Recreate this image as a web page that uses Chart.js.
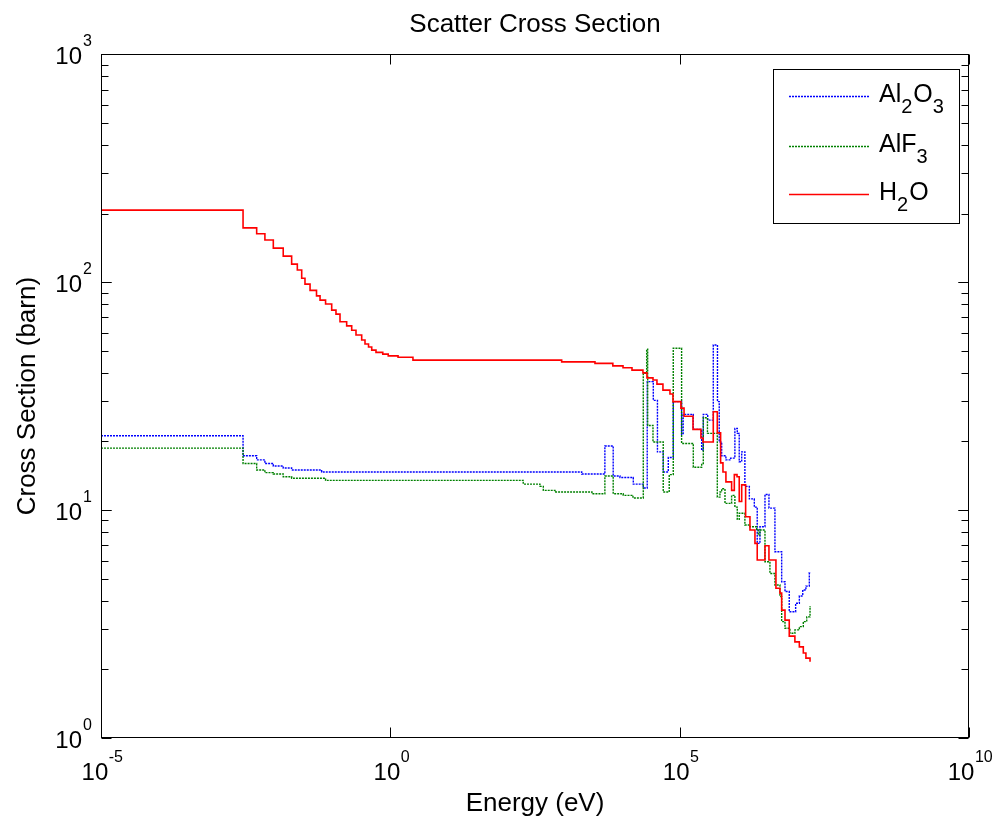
<!DOCTYPE html>
<html>
<head>
<meta charset="utf-8">
<script src="https://cdn.jsdelivr.net/npm/chart.js@4.4.1/dist/chart.umd.min.js"></script>
<style>
  html, body { margin: 0; padding: 0; background: #fff; }
  #wrap { width: 996px; height: 823px; }
</style>
</head>
<body>
<div id="wrap"><canvas id="c" width="996" height="823"></canvas></div>
<script>
// ---------- data (energy in eV, cross section in barn; group-wise step values) ----------
const al2o3Energy = [1e-5, 2.85e-3, 4.9e-3, 6.8e-3, 9.5e-3, 1.41e-2, 1.97e-2, 6.5e-2, 2.03e3, 5.1e3, 7.1e3, 9.3e3, 1.58e4, 2.35e4, 2.75e4, 3.5e4, 4.13e4, 5.2e4, 6.36e4, 7.75e4, 1.08e5, 1.15e5, 1.72e5, 2.4e5, 2.56e5, 3.05e5, 3.81e5, 4.5e5, 4.83e5, 5.32e5, 6.3e5, 7.6e5, 9.0e5, 9.9e5, 1.07e6, 1.18e6, 1.34e6, 1.6e6, 1.95e6, 2.19e6, 2.44e6, 2.98e6, 3.49e6, 4.43e6, 5.79e6, 6.61e6, 7.83e6, 1.01e7, 1.17e7, 1.34e7, 1.52e7, 1.74e7, 1.83e7];
const al2o3Sigma  = [21.2, 17.3, 16.6, 16.0, 15.6, 15.3, 15.0, 14.7, 14.4, 19.1, 14.1, 13.9, 13.0, 12.5, 36.6, 30.3, 18.0, 14.7, 17.0, 29.9, 21.5, 26.3, 22.6, 18.3, 26.3, 24.8, 53.0, 29.9, 19.9, 17.3, 16.6, 16.9, 22.8, 21.7, 16.3, 18.0, 12.7, 11.2, 10.3, 7.14, 8.45, 11.7, 10.2, 6.56, 4.85, 4.39, 3.58, 3.90, 4.20, 4.46, 4.64, 5.31, 5.31];

const alf3Energy = [1e-5, 2.85e-3, 4.9e-3, 6.8e-3, 9.5e-3, 1.41e-2, 1.97e-2, 7.6e-2, 198, 385, 440, 700, 3.05e3, 5.1e3, 7.1e3, 1.06e4, 1.56e4, 2.35e4, 2.69e4, 2.8e4, 3.46e4, 5.2e4, 6.6e4, 7.75e4, 1.08e5, 1.72e5, 2.4e5, 2.56e5, 3.02e5, 4.47e5, 4.97e5, 5.32e5, 6.07e5, 7.9e5, 9.0e5, 9.9e5, 1.07e6, 1.34e6, 1.64e6, 2.14e6, 2.28e6, 2.44e6, 2.98e6, 3.63e6, 4.43e6, 5.41e6, 5.79e6, 6.61e6, 8.05e6, 9.8e6, 1.17e7, 1.37e7, 1.57e7, 1.79e7, 1.83e7];
const alf3Sigma  = [18.7, 16.0, 15.0, 14.6, 14.4, 14.0, 13.8, 13.5, 13.0, 12.7, 12.2, 12.0, 11.8, 14.1, 11.8, 11.6, 11.3, 39.8, 50.8, 23.5, 19.9, 12.0, 14.3, 51.3, 19.6, 15.4, 16.0, 25.4, 21.7, 11.4, 12.0, 12.4, 10.7, 11.6, 10.3, 9.1, 9.68, 8.6, 8.45, 8.17, 7.77, 8.17, 5.93, 5.27, 4.69, 4.17, 3.24, 3.03, 2.88, 2.98, 3.08, 3.24, 3.40, 3.77, 3.77];

const h2oEnergy = [1e-5, 2.85e-3, 4.9e-3, 6.8e-3, 9.5e-3, 1.41e-2, 1.97e-2, 2.47e-2, 2.94e-2, 3.35e-2, 4.1e-2, 5.3e-2, 6.1e-2, 7.6e-2, 9.7e-2, 0.115, 0.135, 0.176, 0.215, 0.255, 0.32, 0.365, 0.42, 0.477, 0.565, 0.74, 0.92, 1.36, 2.46, 914, 3.44e3, 7.0e3, 1.05e4, 1.5e4, 2.32e4, 2.72e4, 3.46e4, 4.05e4, 5.14e4, 6.8e4, 7.66e4, 1.05e5, 1.19e5, 1.70e5, 2.33e5, 2.53e5, 3.81e5, 4.47e5, 5.1e5, 5.6e5, 6.3e5, 7.9e5, 8.8e5, 9.8e5, 1.07e6, 1.18e6, 1.38e6, 1.64e6, 2.0e6, 2.19e6, 2.98e6, 3.49e6, 4.61e6, 5.41e6, 5.79e6, 6.61e6, 7.83e6, 9.8e6, 1.17e7, 1.37e7, 1.52e7, 1.79e7];
const h2oSigma  = [207, 173, 163, 153, 141, 130, 120, 113, 104, 98, 92, 87, 83.4, 80.2, 75.4, 72.4, 67, 64.3, 61.5, 58.6, 55.7, 53.5, 51.9, 50.3, 49.2, 48.3, 47.5, 46.8, 45.5, 44.7, 44.0, 42.9, 42.1, 41.1, 40.0, 38.0, 37.2, 35.7, 33.6, 32.3, 29.9, 28.0, 25.8, 22.6, 20.7, 19.9, 27.0, 21.8, 16.1, 14.7, 13.3, 12.2, 14.3, 14.0, 10.9, 12.9, 9.35, 8.17, 7.14, 6.04, 6.97, 6.04, 4.54, 4.32, 3.64, 3.29, 2.80, 2.64, 2.51, 2.36, 2.24, 2.16];

const seriesNames = ['Al₂O₃', 'AlF₃', 'H₂O'];
// legend rich text parts: [text, isSubscript]
const legendParts = [
  [['Al', false], ['2', true], ['O', false], ['3', true]],
  [['AlF', false], ['3', true]],
  [['H', false], ['2', true], ['O', false]]
];

const xTickValues = [1e-5, 1, 1e5, 1e10];
const xTickExps   = ['-5', '0', '5', '10'];
const yTickValues = [1, 10, 100, 1000];
const yTickExps   = ['0', '1', '2', '3'];

const titleText = 'Scatter Cross Section';
const xTitle = 'Energy (eV)';
const yTitle = 'Cross Section (barn)';

// ---------- build ----------
const FONT = "'Liberation Sans', Arial, Helvetica, sans-serif";
function pts(ex, ey) { return ex.map((e, i) => ({ x: e, y: ey[i] })); }

const styles = [
  { color: '#0000ff', width: 1.4, dash: [2, 1] },
  { color: '#008000', width: 1.4, dash: [2, 1] },
  { color: '#ff0000', width: 1.6, dash: [] }
];

const datasets = [
  { label: seriesNames[0], data: pts(al2o3Energy, al2o3Sigma), order: 3 },
  { label: seriesNames[1], data: pts(alf3Energy, alf3Sigma), order: 2 },
  { label: seriesNames[2], data: pts(h2oEnergy, h2oSigma), order: 1 }
].map((d, i) => Object.assign(d, {
  borderColor: styles[i].color,
  backgroundColor: styles[i].color,
  borderWidth: styles[i].width,
  borderDash: styles[i].dash,
  pointRadius: 0,
  stepped: 'before',
  fill: false,
  tension: 0
}));

const matlabDecor = {
  id: 'matlabDecor',
  afterDraw(chart) {
    const { ctx, chartArea: a, scales: { x, y } } = chart;
    const L = Math.round(a.left) + 0.5, R = Math.round(a.right) - 0.5;
    const T = Math.round(a.top) + 0.5, B = Math.round(a.bottom) - 0.5;
    ctx.save();
    ctx.strokeStyle = '#000';
    ctx.lineWidth = 1;
    ctx.setLineDash([]);
    ctx.strokeRect(L, T, R - L, B - T);

    // ticks
    ctx.beginPath();
    xTickValues.forEach(v => {
      const px = Math.round(x.getPixelForValue(v)) + 0.5;
      ctx.moveTo(px, B); ctx.lineTo(px, B - 10);
      ctx.moveTo(px, T); ctx.lineTo(px, T + 10);
    });
    for (let d = 0; d < 3; d++) {
      for (let m = 1; m <= 10; m++) {
        const v = m * Math.pow(10, d);
        const py = Math.round(y.getPixelForValue(v)) + 0.5;
        const len = (m === 1 || m === 10) ? 10 : 7;
        ctx.moveTo(L, py); ctx.lineTo(L + len, py);
        ctx.moveTo(R, py); ctx.lineTo(R - len, py);
      }
    }
    ctx.stroke();

    // tick labels with superscripts
    ctx.fillStyle = '#000';
    ctx.textBaseline = 'alphabetic';
    const baseFont = '24px ' + FONT, supFont = '16px ' + FONT;
    xTickValues.forEach((v, i) => {
      const px = x.getPixelForValue(v);
      ctx.font = baseFont; const w1 = ctx.measureText('10').width;
      ctx.font = supFont; const w2 = ctx.measureText(xTickExps[i]).width;
      const sx = px - (w1 + w2) / 2 + 1;
      ctx.font = baseFont; ctx.textAlign = 'left';
      ctx.fillText('10', sx, a.bottom + 42);
      ctx.font = supFont;
      ctx.fillText(xTickExps[i], sx + w1 + 0.5, a.bottom + 24);
    });
    yTickValues.forEach((v, i) => {
      const py = y.getPixelForValue(v);
      ctx.font = baseFont; ctx.textAlign = 'right';
      ctx.fillText('10', a.left - 19, py + 10);
      ctx.font = supFont; ctx.textAlign = 'left';
      ctx.fillText(yTickExps[i], a.left - 18, py - 8);
    });

    // legend
    const bx = 773.5, by = 69.5, bw = 186, bh = 154;
    ctx.fillStyle = '#fff';
    ctx.fillRect(bx, by, bw, bh);
    ctx.strokeStyle = '#000';
    ctx.strokeRect(bx, by, bw, bh);
    const rowY = [96, 146, 194];
    chart.data.datasets.forEach((ds, i) => {
      ctx.save();
      ctx.strokeStyle = ds.borderColor;
      ctx.lineWidth = ds.borderWidth;
      ctx.setLineDash(ds.borderDash);
      ctx.beginPath();
      ctx.moveTo(789, rowY[i] + 0.5);
      ctx.lineTo(869, rowY[i] + 0.5);
      ctx.stroke();
      ctx.restore();
      let tx = 879;
      ctx.fillStyle = '#000';
      ctx.textAlign = 'left';
      legendParts[i].forEach(([t, sub]) => {
        ctx.font = (sub ? '20px ' : '25px ') + FONT;
        ctx.fillText(t, tx, rowY[i] + (sub ? 17 : 6));
        tx += ctx.measureText(t).width + (sub ? 1 : 0);
      });
    });
    ctx.restore();
  }
};

Chart.defaults.font.family = FONT;
Chart.defaults.color = '#000';

new Chart(document.getElementById('c'), {
  type: 'line',
  data: { datasets },
  options: {
    responsive: false,
    animation: false,
    events: [],
    layout: { padding: { left: 0, right: 27, top: 0, bottom: 0 } },
    plugins: {
      legend: { display: false },
      tooltip: { enabled: false },
      title: {
        display: true,
        text: titleText,
        fullSize: false,
        color: '#000',
        font: { size: 26, weight: 'normal', family: FONT },
        padding: { top: 9, bottom: 14 }
      }
    },
    scales: {
      x: {
        type: 'logarithmic',
        min: 1e-5, max: 1e10,
        grid: { display: false },
        border: { display: false },
        ticks: { display: false },
        title: { display: true, text: xTitle, color: '#000', font: { size: 26, family: FONT }, padding: { top: 0, bottom: 4 } },
        afterFit(s) { s.height = 85; }
      },
      y: {
        type: 'logarithmic',
        min: 1, max: 1000,
        grid: { display: false },
        border: { display: false },
        ticks: { display: false },
        title: { display: true, text: yTitle, color: '#000', font: { size: 26, family: FONT }, padding: { top: 12, bottom: 0 } },
        afterFit(s) { s.width = 101; }
      }
    }
  },
  plugins: [matlabDecor]
});
</script>
</body>
</html>
